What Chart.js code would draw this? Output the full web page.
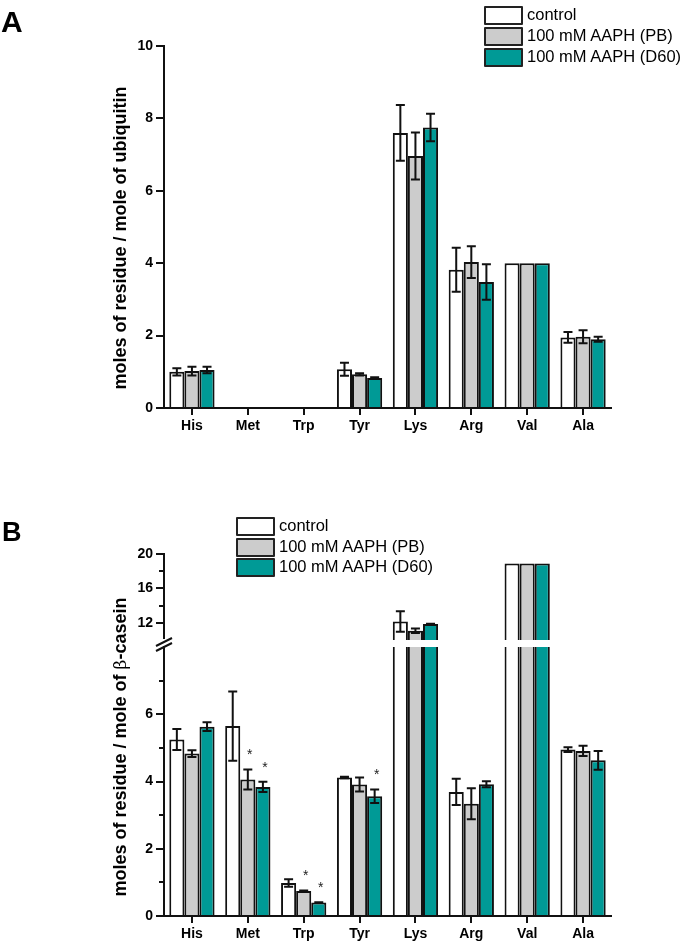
<!DOCTYPE html>
<html>
<head>
<meta charset="utf-8">
<script src="https://cdn.jsdelivr.net/npm/chart.js@4.4.1/dist/chart.umd.min.js"></script>
<style>
  html, body { margin: 0; padding: 0; background: #fff; }
  body { width: 688px; height: 944px; position: relative; overflow: hidden; font-family: 'Liberation Sans', Arial, sans-serif; }
  canvas { position: absolute; left: 0; }
  .panel { position: absolute; font-weight: bold; color: #000; line-height: 1; }
  .ytitle { position: absolute; font-weight: bold; font-size: 18px; color: #000; white-space: nowrap; transform: translate(-50%, -50%) rotate(-90deg); line-height: 1; }
  .legend { position: absolute; font-size: 16.5px; color: #000; }
  .legend .row { position: absolute; left: 0; height: 18px; white-space: nowrap; }
  .legend .box { position: absolute; left: 0; top: 0; width: 35px; height: 15px; border: 2px solid #222; border-radius: 1px; }
  .legend .txt { position: absolute; left: 43px; top: -1px; line-height: 19px; }
  .beta { font-weight: normal; font-family: 'DejaVu Serif', serif; font-size: 17px; }
</style>
</head>
<body>
<canvas id="cA" width="688" height="450" style="top:0px"></canvas>
<canvas id="cBu" width="688" height="160" style="top:500px"></canvas>
<canvas id="cBl" width="688" height="314" style="top:630px"></canvas>

<div class="panel" style="left:1px; top:7px; font-size:30px;">A</div>
<div class="panel" style="left:2px; top:519px; font-size:27px;">B</div>

<div class="ytitle" style="left:120px; top:238px;">moles of residue / mole of ubiquitin</div>
<div class="ytitle" style="left:120px; top:747px;">moles of residue / mole of <span class="beta">β</span>-casein</div>

<div class="legend" style="left:484px; top:6px;">
  <div class="row" style="top:0px"><div class="box" style="background:#ffffff"></div><div class="txt">control</div></div>
  <div class="row" style="top:21px"><div class="box" style="background:#cccccc"></div><div class="txt">100 mM AAPH (PB)</div></div>
  <div class="row" style="top:42px"><div class="box" style="background:#009a96"></div><div class="txt">100 mM AAPH (D60)</div></div>
</div>
<div class="legend" style="left:236px; top:517px;">
  <div class="row" style="top:0px"><div class="box" style="background:#ffffff"></div><div class="txt">control</div></div>
  <div class="row" style="top:20.5px"><div class="box" style="background:#cccccc"></div><div class="txt">100 mM AAPH (PB)</div></div>
  <div class="row" style="top:41px"><div class="box" style="background:#009a96"></div><div class="txt">100 mM AAPH (D60)</div></div>
</div>

<script>
// ---------- data ----------
const categories = ['His', 'Met', 'Trp', 'Tyr', 'Lys', 'Arg', 'Val', 'Ala'];
const seriesNames = ['control', '100 mM AAPH (PB)', '100 mM AAPH (D60)'];

// Panel A: ubiquitin
const controlA    = [1.00, 0, 0, 1.07, 7.60, 3.82, 4.00, 1.95];
const controlAErr = [0.10, 0, 0, 0.18, 0.77, 0.61, 0,    0.15];
const pbA         = [1.02, 0, 0, 0.93, 6.96, 4.03, 4.00, 1.97];
const pbAErr      = [0.12, 0, 0, 0.03, 0.65, 0.44, 0,    0.18];
const d60A        = [1.05, 0, 0, 0.83, 7.75, 3.48, 4.00, 1.90];
const d60AErr     = [0.09, 0, 0, 0.02, 0.38, 0.49, 0,    0.07];

// Panel B: beta-casein
const controlB    = [5.25, 5.65, 0.98, 4.12, 12.15, 3.69, 18.9, 4.95];
const controlBErr = [0.31, 1.03, 0.11, 0.02, 1.20,  0.39, 0,    0.07];
const pbB         = [4.83, 4.06, 0.74, 3.91, 11.07, 3.34, 18.9, 4.91];
const pbBErr      = [0.10, 0.30, 0.02, 0.21, 0.27,  0.46, 0,    0.15];
const d60B        = [5.63, 3.84, 0.40, 3.56, 11.85, 3.92, 18.9, 4.63];
const d60BErr     = [0.13, 0.15, 0.01, 0.20, 0.05,  0.09, 0,    0.28];
const pbBStar     = [0, 1, 1, 0, 0, 0, 0, 0];
const d60BStar    = [0, 1, 1, 1, 0, 0, 0, 0];

// Tick labels
const ticksA      = [0, 2, 4, 6, 8, 10];
const ticksBUpper = [12, 16, 20];
const minorBUpper = [14, 18];
const ticksBLower = [0, 2, 4, 6];
const minorBLower = [1, 3, 5, 7];

// ---------- styling ----------
const FONT = "'Liberation Sans', Arial, sans-serif";
const fills = ['#ffffff', '#cccccc', '#009a96'];
const INK = '#111111';

function makeDatasets(vals, errs, stars) {
  return vals.map((v, i) => ({
    label: seriesNames[i],
    data: v,
    errors: errs[i],
    stars: stars ? stars[i] : null,
    backgroundColor: fills[i],
    borderColor: INK,
    borderWidth: 2,
    borderSkipped: 'start',
    categoryPercentage: 0.81,
    barPercentage: 1.0,
    clip: 0
  }));
}

const errPlugin = {
  id: 'errbars',
  afterDatasetsDraw(chart) {
    const { ctx, chartArea } = chart;
    const ys = chart.scales.y;
    ctx.save();
    ctx.beginPath();
    ctx.rect(chartArea.left, chartArea.top, chartArea.right - chartArea.left, chartArea.bottom - chartArea.top);
    ctx.clip();
    chart.data.datasets.forEach((ds, i) => {
      const meta = chart.getDatasetMeta(i);
      meta.data.forEach((bar, j) => {
        const v = ds.data[j];
        const e = ds.errors ? ds.errors[j] : 0;
        const x = bar.x;
        if (e) {
          const yt = ys.getPixelForValue(v + e);
          const yb = ys.getPixelForValue(v - e);
          ctx.strokeStyle = INK;
          ctx.lineWidth = 2;
          ctx.beginPath();
          ctx.moveTo(x, yt); ctx.lineTo(x, yb);
          ctx.moveTo(x - 4.5, yt); ctx.lineTo(x + 4.5, yt);
          ctx.moveTo(x - 4.5, yb); ctx.lineTo(x + 4.5, yb);
          ctx.stroke();
        }
        if (ds.stars && ds.stars[j]) {
          const yt = ys.getPixelForValue(v + e);
          ctx.fillStyle = '#222';
          ctx.font = '14px ' + FONT;
          ctx.textAlign = 'center';
          ctx.textBaseline = 'middle';
          ctx.fillText('*', x + 2, yt - 14);
        }
      });
    });
    ctx.restore();
  }
};

const minorPlugin = {
  id: 'minorticks',
  afterDraw(chart, args, opts) {
    if (!opts || !opts.values) return;
    const { ctx, chartArea } = chart;
    const ys = chart.scales.y;
    ctx.save();
    ctx.strokeStyle = INK;
    ctx.lineWidth = 2;
    ctx.beginPath();
    opts.values.forEach(v => {
      const y = Math.round(ys.getPixelForValue(v));
      ctx.moveTo(chartArea.left - 5, y);
      ctx.lineTo(chartArea.left, y);
    });
    ctx.stroke();
    if (opts.breakMark) {
      const x0 = chartArea.left, yb = chartArea.bottom;
      ctx.strokeStyle = '#fff';
      ctx.lineWidth = 4;
      ctx.beginPath();
      ctx.moveTo(x0, yb - 1); ctx.lineTo(x0, yb + 12);
      ctx.stroke();
      ctx.strokeStyle = INK;
      ctx.lineWidth = 2;
      ctx.beginPath();
      ctx.moveTo(x0 - 8, yb + 6); ctx.lineTo(x0 + 8, yb - 2);
      ctx.moveTo(x0 - 8, yb + 11); ctx.lineTo(x0 + 8, yb + 3);
      ctx.stroke();
    }
    ctx.restore();
  }
};

function yScale(min, max, tickVals, width) {
  return {
    type: 'linear',
    min: min, max: max,
    afterBuildTicks: s => { s.ticks = tickVals.map(v => ({ value: v })); },
    afterFit: s => { s.width = width; },
    border: { display: true, color: INK, width: 2 },
    grid: { drawOnChartArea: false, drawTicks: true, tickLength: 8, color: INK, lineWidth: 2 },
    ticks: { color: '#000', padding: 3, font: { family: FONT, size: 14, weight: 'bold' } }
  };
}

function xScale(show, height) {
  return {
    type: 'category',
    display: show,
    offset: true,
    afterFit: s => { s.height = height; },
    border: { display: true, color: INK, width: 2 },
    grid: { offset: false, drawOnChartArea: false, drawTicks: true, tickLength: 7, color: INK, lineWidth: 2 },
    ticks: { color: '#000', padding: 3, maxRotation: 0, autoSkip: false, font: { family: FONT, size: 14, weight: 'bold' } }
  };
}

function baseOptions(padding, scales, minor) {
  return {
    responsive: false,
    maintainAspectRatio: false,
    animation: false,
    devicePixelRatio: 1,
    layout: { padding: padding },
    plugins: { legend: { display: false }, tooltip: { enabled: false }, minorticks: minor || {} },
    scales: scales
  };
}

Chart.register(errPlugin, minorPlugin);

new Chart(document.getElementById('cA'), {
  type: 'bar',
  data: { labels: categories, datasets: makeDatasets([controlA, pbA, d60A], [controlAErr, pbAErr, d60AErr]) },
  options: baseOptions({ left: 100, right: 77, top: 46, bottom: 0 },
    { x: xScale(true, 42), y: yScale(0, 10, ticksA, 64) })
});

new Chart(document.getElementById('cBu'), {
  type: 'bar',
  data: { labels: categories, datasets: makeDatasets([controlB, pbB, d60B], [controlBErr, pbBErr, d60BErr], [null, pbBStar, d60BStar]) },
  options: baseOptions({ left: 100, right: 77, top: 54, bottom: 20 },
    { x: xScale(false, 0), y: yScale(10, 20, ticksBUpper, 64) },
    { values: minorBUpper, breakMark: true })
});

new Chart(document.getElementById('cBl'), {
  type: 'bar',
  data: { labels: categories, datasets: makeDatasets([controlB, pbB, d60B], [controlBErr, pbBErr, d60BErr], [null, pbBStar, d60BStar]) },
  options: baseOptions({ left: 100, right: 77, top: 17, bottom: 0 },
    { x: xScale(true, 28), y: yScale(0, 8, ticksBLower, 64) },
    { values: minorBLower })
});
</script>
</body>
</html>
